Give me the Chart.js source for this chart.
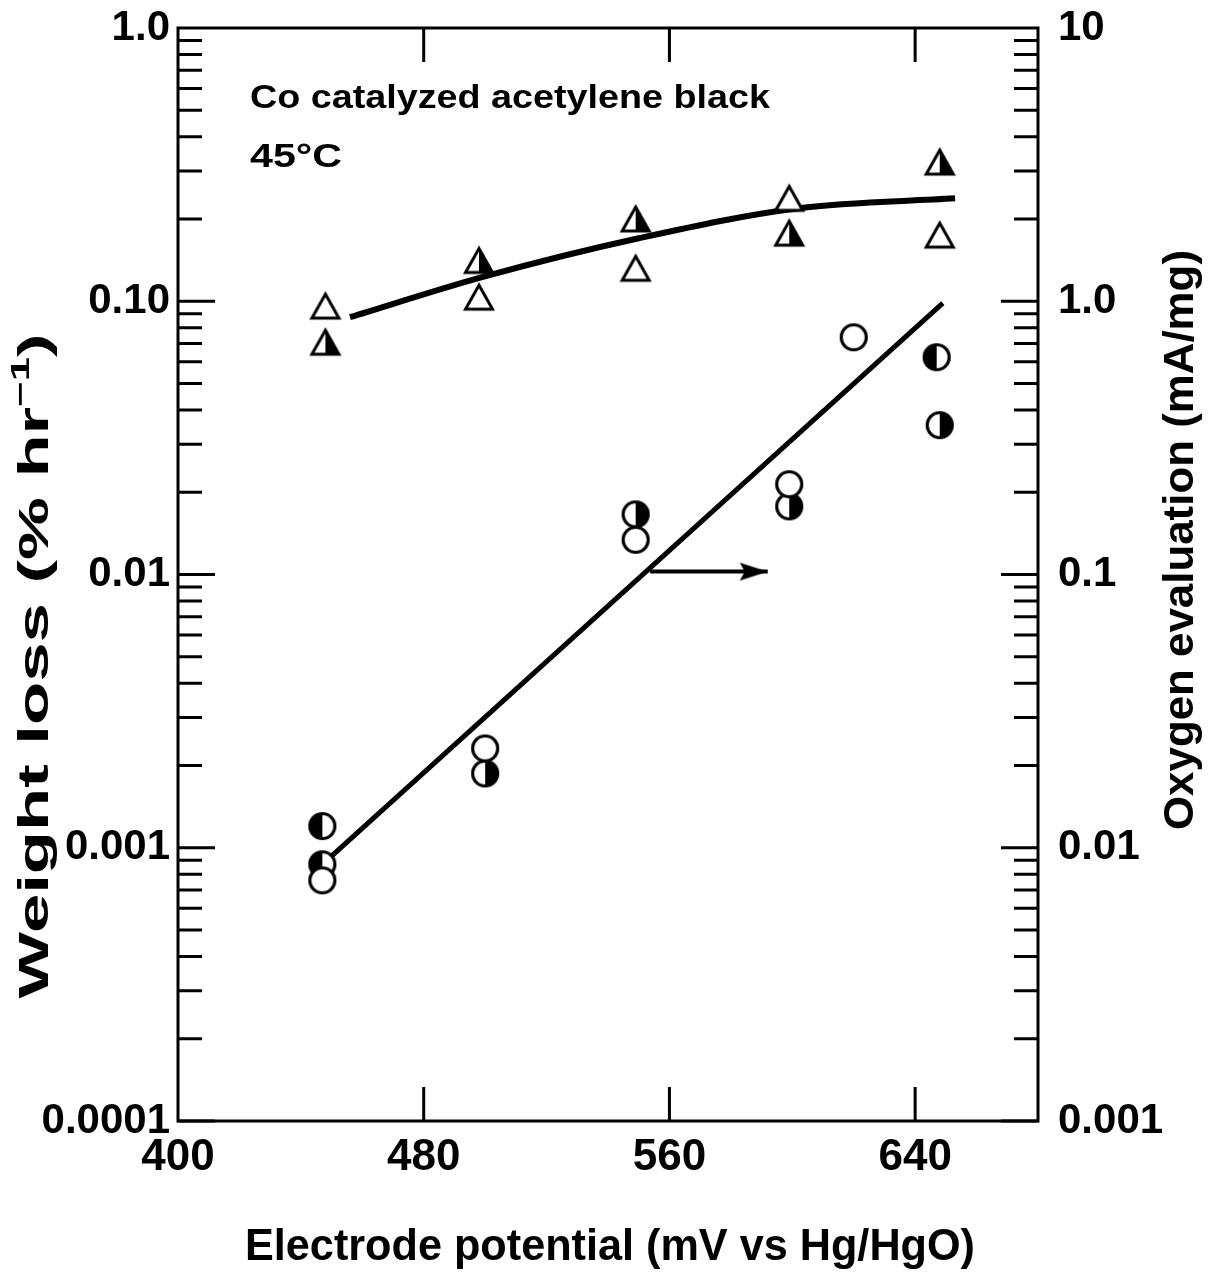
<!DOCTYPE html>
<html><head><meta charset="utf-8">
<script src="https://cdn.jsdelivr.net/npm/chart.js@4"></script>
<style>html,body{margin:0;padding:0;background:#fff}</style>
</head><body>
<canvas id="c" width="1211" height="1281" style="display:block;width:1211px;height:1281px"></canvas>
<script>
// ---- data ----
const xTicks = [400, 480, 560, 640];
const leftTickValues = [0.0001, 0.001, 0.01, 0.1, 1];
const leftTickLabels = ['0.0001', '0.001', '0.01', '0.10', '1.0'];
const rightTickValues = [0.001, 0.01, 0.1, 1, 10];
const rightTickLabels = ['0.001', '0.01', '0.1', '1.0', '10'];

// weight loss (left axis, % hr^-1)
const triOpenX = [448, 498, 549, 599, 648];
const triOpenY = [0.096, 0.1035, 0.132, 0.238, 0.1746];
const triHalfX = [448, 498, 549, 599, 648];
const triHalfY = [0.0708, 0.141, 0.200, 0.1775, 0.323];
const weightCurveX = [456, 499, 550, 602, 653];
const weightCurveY = [0.0874, 0.1225, 0.170, 0.219, 0.238];

// oxygen evolution (right axis, mA/mg)
const circOpenX = [447, 500, 549, 599, 620];
const circOpenY = [0.0076, 0.0231, 0.134, 0.214, 0.738];
const circHalfLX = [447, 447, 647];
const circHalfLY = [0.0120, 0.0087, 0.624];
const circHalfRX = [500, 549, 599, 648];
const circHalfRY = [0.0187, 0.166, 0.1775, 0.352];
const oxygenLineX = [449, 649];
const oxygenLineY = [0.0091, 0.984];
const arrowX = [553.7, 592];
const arrowY = [0.1025, 0.1025];

const FONT = '"Liberation Sans", Arial, sans-serif';

function pts(xs, ys) { return xs.map((x, i) => ({x: x, y: ys[i]})); }

// ---- marker images ----
function mk(w, h, fn) { const c = document.createElement('canvas'); c.width = w; c.height = h; const g = c.getContext('2d'); fn(g); return c; }
function triPath(g) { g.beginPath(); g.moveTo(18, 6); g.lineTo(31.5, 30); g.lineTo(4.5, 30); g.closePath(); }
const imgTriOpen = mk(36, 36, g => { triPath(g); g.fillStyle = '#fff'; g.fill(); g.lineWidth = 3; g.strokeStyle = '#000'; g.stroke(); });
const imgTriHalf = mk(36, 36, g => { triPath(g); g.fillStyle = '#fff'; g.fill(); g.save(); triPath(g); g.clip(); g.fillStyle = '#000'; g.fillRect(18, 0, 18, 36); g.restore(); triPath(g); g.lineWidth = 3; g.strokeStyle = '#000'; g.stroke(); });
function circ(g) { g.beginPath(); g.arc(17, 17, 12.5, 0, Math.PI * 2); }
const imgCircOpen = mk(34, 34, g => { circ(g); g.fillStyle = '#fff'; g.fill(); g.lineWidth = 3.2; g.strokeStyle = '#000'; g.stroke(); });
function halfCirc(side) { return mk(34, 34, g => { circ(g); g.fillStyle = '#fff'; g.fill(); g.beginPath(); g.arc(17, 17, 12.5, Math.PI / 2, Math.PI * 1.5, side === 'R'); g.closePath(); g.fillStyle = '#000'; g.fill(); circ(g); g.lineWidth = 3.2; g.strokeStyle = '#000'; g.stroke(); }); }
const imgCircHalfL = halfCirc('L');
const imgCircHalfR = halfCirc('R');
const imgArrow = mk(60, 26, g => { g.beginPath(); g.moveTo(30, 13); g.lineTo(2, 4); g.lineTo(7, 13); g.lineTo(2, 22); g.closePath(); g.fillStyle = '#000'; g.fill(); });

function fitText(ctx, segs, cx, cy, targetW, rot) {
  ctx.save();
  ctx.translate(cx, cy); ctx.rotate(rot);
  let tot = 0;
  segs.forEach(s => { ctx.font = s.font; s.w = ctx.measureText(s.t).width; tot += s.w; });
  ctx.scale(targetW / tot, 1);
  ctx.textBaseline = 'middle'; ctx.textAlign = 'left'; ctx.fillStyle = '#000';
  let x = -tot / 2;
  segs.forEach(s => { ctx.font = s.font; ctx.fillText(s.t, x, s.dy || 0); x += s.w; });
  ctx.restore();
}

const framePlugin = {
  id: 'frame',
  afterDraw(chart) {
    const ctx = chart.ctx, a = chart.chartArea;
    const xs = chart.scales.x, yl = chart.scales.y, yr = chart.scales.y2;
    ctx.save();
    ctx.strokeStyle = '#000'; ctx.lineWidth = 3; ctx.lineCap = 'butt';
    ctx.strokeRect(a.left, a.top, a.right - a.left, a.bottom - a.top);
    ctx.beginPath();
    xTicks.slice(1).forEach(v => {
      const p = xs.getPixelForValue(v);
      ctx.moveTo(p, a.top); ctx.lineTo(p, a.top + 34);
      ctx.moveTo(p, a.bottom); ctx.lineTo(p, a.bottom - 34);
    });
    [[yl, leftTickValues, a.left, 1], [yr, rightTickValues, a.right, -1]].forEach(([sc, vals, x0, dir]) => {
      for (let i = 0; i < vals.length - 1; i++) {
        for (let m = 1; m <= 9; m++) {
          const v = vals[i] * m;
          const p = sc.getPixelForValue(v);
          const len = m === 1 ? 37 : 24;
          ctx.moveTo(x0, p); ctx.lineTo(x0 + dir * len, p);
        }
      }
    });
    ctx.stroke();
    // texts
    const tf = 'bold 34px ' + FONT;
    fitText(ctx, [{t: 'Co catalyzed acetylene black', font: tf}], 510, 99, 520, 0);
    fitText(ctx, [{t: '45°C', font: tf}], 296, 158, 92, 0);
    const big = 'bold 42px ' + FONT, sup = 'bold 26px ' + FONT;
    fitText(ctx, [{t: 'Weight loss (% hr', font: big}, {t: '−1', font: sup, dy: -14}, {t: ')', font: big}], 36, 666, 665, -Math.PI / 2);
    fitText(ctx, [{t: 'Oxygen evaluation (mA/mg)', font: big}], 1181, 540, 580, -Math.PI / 2);
    fitText(ctx, [{t: 'Electrode potential (mV vs Hg/HgO)', font: 'bold 44px ' + FONT}], 610, 1248, 730, 0);
    ctx.restore();
  }
};

const noPad = s => { s.paddingTop = 0; s.paddingBottom = 0; s.paddingLeft = 0; s.paddingRight = 0; };
const lineDs = (data, axis, extra) => Object.assign({type: 'line', data: data, yAxisID: axis, borderColor: '#000', borderWidth: 4, pointRadius: 0, fill: false, showLine: true}, extra || {});
const markDs = (data, axis, img) => ({type: 'scatter', data: data, yAxisID: axis, pointStyle: img, pointRadius: 14, showLine: false, order: 0});

new Chart(document.getElementById('c'), {
  data: {
    datasets: [
      lineDs(pts(weightCurveX, weightCurveY), 'y', {cubicInterpolationMode: 'monotone', borderWidth: 6, order: 5}),
      lineDs(pts(oxygenLineX, oxygenLineY), 'y2', {borderWidth: 5, order: 5}),
      lineDs(pts(arrowX, arrowY), 'y2', {borderWidth: 4, order: 5, pointRadius: [0, 13], pointStyle: imgArrow}),
      markDs(pts(triOpenX, triOpenY), 'y', imgTriOpen),
      markDs(pts(triHalfX, triHalfY), 'y', imgTriHalf),
      markDs(pts(circOpenX, circOpenY), 'y2', imgCircOpen),
      markDs(pts(circHalfLX, circHalfLY), 'y2', imgCircHalfL),
      markDs(pts(circHalfRX, circHalfRY), 'y2', imgCircHalfR)
    ]
  },
  options: {
    responsive: false, animation: false, devicePixelRatio: 1,
    layout: {padding: {top: 28, left: 0, right: 0, bottom: 0}},
    plugins: {legend: {display: false}, tooltip: {enabled: false}},
    scales: {
      x: {type: 'linear', position: 'bottom', min: 400, max: 680,
        afterBuildTicks: s => { s.ticks = xTicks.map(v => ({value: v})); },
        afterFit: s => { s.height = 160; noPad(s); },
        grid: {display: false, drawTicks: false}, border: {display: false},
        ticks: {color: '#000', font: {family: FONT, size: 44, weight: 'bold'}, padding: 10, maxRotation: 0, callback: v => String(v)}},
      y: {type: 'logarithmic', position: 'left', min: 0.0001, max: 1,
        afterBuildTicks: s => { s.ticks = leftTickValues.map(v => ({value: v})); },
        afterFit: s => { s.width = 178; noPad(s); },
        grid: {display: false, drawTicks: false}, border: {display: false},
        ticks: {color: '#000', font: {family: FONT, size: 42, weight: 'bold'}, padding: 8, callback: (v, i) => leftTickLabels[i]}},
      y2: {type: 'logarithmic', position: 'right', min: 0.001, max: 10,
        afterBuildTicks: s => { s.ticks = rightTickValues.map(v => ({value: v})); },
        afterFit: s => { s.width = 173; noPad(s); },
        grid: {display: false, drawTicks: false}, border: {display: false},
        ticks: {color: '#000', font: {family: FONT, size: 42, weight: 'bold'}, padding: 20, callback: (v, i) => rightTickLabels[i]}}
    }
  },
  plugins: [framePlugin]
});
</script>
</body></html>
